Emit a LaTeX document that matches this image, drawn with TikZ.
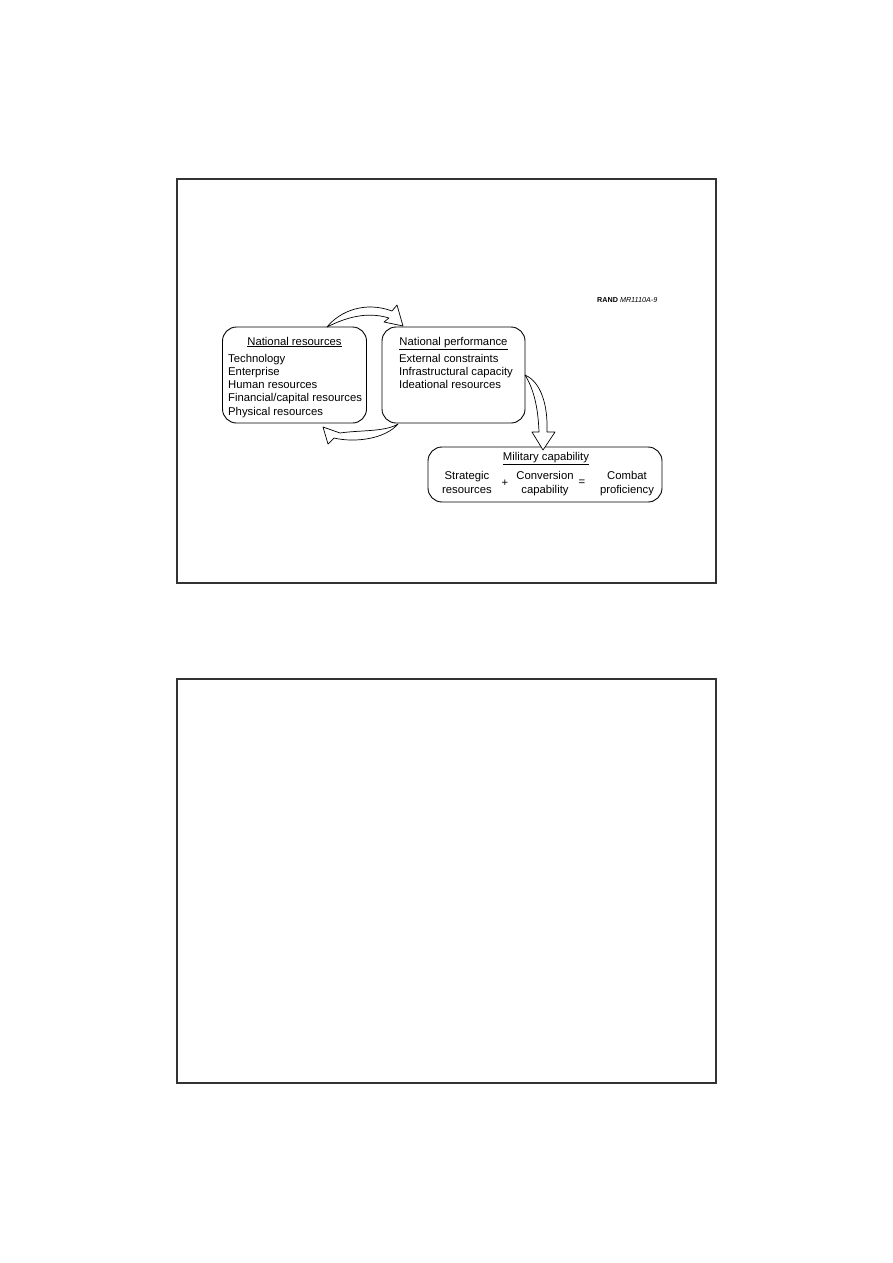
\documentclass[tikz,border=0pt]{standalone}
\usepackage{fontspec}
\setmainfont{Liberation Sans}
\usetikzlibrary{positioning}

\tikzset{
  panel/.style={draw=black!80, line width=1.6pt},
  roundbox/.style={draw, line width=0.9pt, rounded corners=14pt, inner sep=0pt},
  blockarrow/.style={draw, fill=white, line width=0.7pt, line join=round},
  heading/.style={anchor=base, inner sep=0pt},
  entry/.style={anchor=base west, inner sep=0pt},
  term/.style={anchor=north, align=center, inner sep=0pt},
}

\begin{document}
\begin{tikzpicture}[x=1pt, y=-1pt, font=\fontsize{11.3}{14}\selectfont]
  \useasboundingbox (0,0) rectangle (893,1263);
  % slide frames
  \draw[panel] (177,179) rectangle (716,583);
  \draw[panel] (177,679) rectangle (716,1083);

  % boxes
  \node[roundbox, minimum width=144pt, minimum height=96pt] (natres) at (294.5,375) {};
  \node[roundbox, minimum width=143pt, minimum height=96pt] (natperf) at (453.5,375) {};
  \node[roundbox, minimum width=234pt, minimum height=55pt] (milcap) at (545,474.5) {};

  % feedback arrows
  \draw[blockarrow] (327,327) .. controls (340,311) and (365,301) .. (392,311)
    -- (397,305) -- (403,326) -- (384,322) -- (389,318)
    .. controls (366,311) and (345,318) .. cycle;
  \draw[blockarrow] (398,424) .. controls (385,432) and (360,430) .. (340,433)
    -- (323,427) -- (328,444) -- (334,438)
    .. controls (355,443) and (385,439) .. cycle;
  \draw[blockarrow] (525,375) .. controls (541,382) and (548,405) .. (547,432)
    -- (555,432) -- (543,450) -- (532,432) -- (539,432)
    .. controls (538,405) and (533,388) .. cycle;

  % national resources
  \node[heading] (natrestitle) at (294.5,345) {\underline{National resources}};
  \foreach \txt [count=\i] in {Technology, Enterprise, Human resources,
      Financial/capital resources, Physical resources}
    \node[entry] (natres-\i) at (228,348.7+13.3*\i) {\txt};

  % national performance
  \node[heading] (natperftitle) at (453.5,345) {\underline{National performance}};
  \foreach \txt [count=\i] in {External constraints, Infrastructural capacity,
      Ideational resources}
    \node[entry] (natperf-\i) at (399,348.7+13.3*\i) {\txt};

  % military capability
  \node[heading] (milcaptitle) at (546,460) {\underline{Military capability}};
  \node[term] (strategic) at (467,471) {Strategic\\resources};
  \node[inner sep=0pt] (plus) at (505,483) {+};
  \node[term] (conversion) at (545,471) {Conversion\\capability};
  \node[inner sep=0pt] (equals) at (582,483) {=};
  \node[term] (combat) at (627,471) {Combat\\proficiency};

  \node[anchor=base west, inner sep=0pt, font=\fontsize{7.2}{8}\selectfont]
    (randtag) at (597,302) {\textbf{RAND} \textit{MR1110A-9}};
\end{tikzpicture}
\end{document}
